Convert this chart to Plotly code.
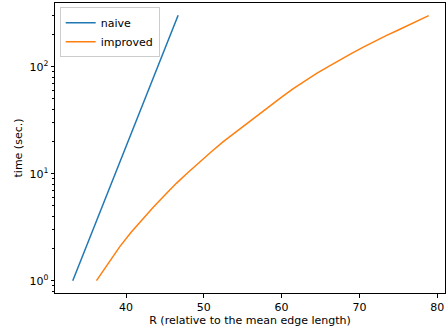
import plotly.graph_objects as go

naive_R = [33.15, 36.0, 40.0, 43.0, 46.7]
naive_t = [1.0, 3.3, 17.9, 63.7, 302.0]

improved_R = [36.2, 37.7, 39.2, 40.6, 42.0, 43.5, 45.0, 46.5, 48.0, 49.5, 51.0, 52.5,
              54.0, 55.5, 57.0, 58.5, 60.0, 61.5, 63.0, 64.5, 66.0, 67.5, 69.0, 70.5,
              72.0, 73.5, 75.0, 76.5, 78.9]
improved_t = [1.0, 1.44, 2.08, 2.80, 3.66, 4.86, 6.32, 8.17, 10.3, 13.0, 16.1, 19.9,
              24.2, 29.5, 35.8, 43.3, 52.0, 62.2, 73.5, 86.4, 100.0, 116.0, 133.0, 152.0,
              173.0, 196.0, 220.0, 248.0, 300.0]

x_ticks = [40, 50, 60, 70, 80]
y_ticks = [1, 10, 100]
y_ticktext = ["10<sup>0</sup>", "10<sup>1</sup>", "10<sup>2</sup>"]
y_minor = [0.8, 0.9] + [m * 10 ** e for e in range(0, 3) for m in range(2, 10) if m * 10 ** e < 400]

font = "DejaVu Sans, Arial, sans-serif"

fig = go.Figure()
fig.add_trace(go.Scatter(x=naive_R, y=naive_t, mode="lines", name="naive",
                         line=dict(color="#1f77b4", width=1.5)))
fig.add_trace(go.Scatter(x=improved_R, y=improved_t, mode="lines", name="improved",
                         line=dict(color="#ff7f0e", width=1.5)))

fig.update_layout(
    width=446, height=335,
    margin=dict(l=55, r=1, t=3, b=42),
    paper_bgcolor="white", plot_bgcolor="white",
    font=dict(family=font, size=11, color="black"),
    showlegend=True,
    legend=dict(x=0.012, y=0.985, xanchor="left", yanchor="top",
                bgcolor="rgba(255,255,255,0.8)", bordercolor="#cccccc", borderwidth=1,
                font=dict(size=11), itemwidth=30, tracegroupgap=0),
    xaxis=dict(range=[30.87, 81.0], tickmode="array", tickvals=x_ticks,
               showgrid=False, zeroline=False, showline=True, linecolor="black",
               linewidth=1, mirror=True, ticks="outside", ticklen=3.5, tickwidth=0.8,
               tickcolor="black", tickfont=dict(size=11),
               title=dict(text="R (relative to the mean edge length)", standoff=3,
                          font=dict(size=11))),
    yaxis=dict(type="log", range=[-0.115, 2.595], tickmode="array", tickvals=y_ticks,
               ticktext=y_ticktext,
               showgrid=False, zeroline=False, showline=True, linecolor="black",
               linewidth=1, mirror=True, ticks="outside", ticklen=3.5, tickwidth=0.8,
               tickcolor="black", tickfont=dict(size=11),
               minor=dict(tickmode="array", tickvals=y_minor, ticks="outside",
                          ticklen=2, tickwidth=0.6, tickcolor="black", showgrid=False),
               title=dict(text="time (sec.)", standoff=4, font=dict(size=11))),
)

fig.write_html("out.html")
